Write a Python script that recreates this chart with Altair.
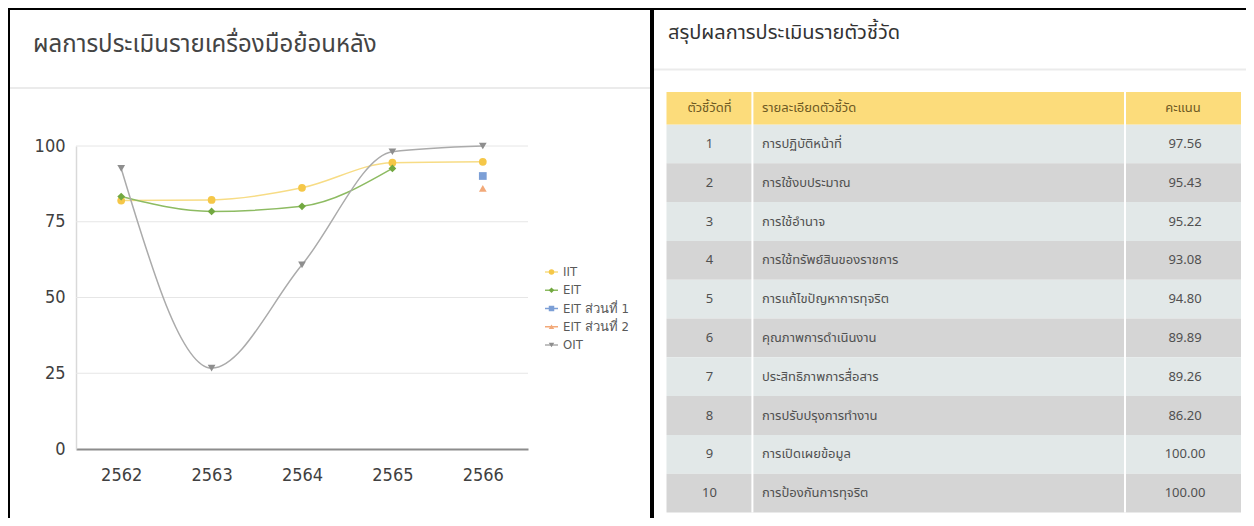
import altair as alt
import pandas as pd

# ---------------- data ----------------
years = ["2562", "2563", "2564", "2565", "2566"]
series_names = ["IIT", "EIT", "EIT ส่วนที่ 1", "EIT ส่วนที่ 2", "OIT"]
iit = [82.0, 82.2, 86.2, 94.5, 94.8]
eit = [83.3, 78.4, 80.1, 92.6, None]
eit1 = [None, None, None, None, 90.1]
eit2 = [None, None, None, None, 86.0]
oit = [92.6, 26.7, 60.8, 98.1, 100.0]
y_ticks = [0, 25, 50, 75, 100]

ind_no = [str(i) for i in range(1, 11)]
ind_desc = [
    "การปฏิบัติหน้าที่",
    "การใช้งบประมาณ",
    "การใช้อำนาจ",
    "การใช้ทรัพย์สินของราชการ",
    "การแก้ไขปัญหาการทุจริต",
    "คุณภาพการดำเนินงาน",
    "ประสิทธิภาพการสื่อสาร",
    "การปรับปรุงการทำงาน",
    "การเปิดเผยข้อมูล",
    "การป้องกันการทุจริต",
]
ind_score = ["97.56", "95.43", "95.22", "93.08", "94.80",
             "89.89", "89.26", "86.20", "100.00", "100.00"]
headers = ["ตัวชี้วัดที่", "รายละเอียดตัวชี้วัด", "คะแนน"]
title_left = "ผลการประเมินรายเครื่องมือย้อนหลัง"
title_right = "สรุปผลการประเมินรายตัวชี้วัด"

# ---------------- styles ----------------
marker_colors = ["#f5c748", "#72a840", "#7c9fd6", "#f2a979", "#8e8e8e"]
line_colors = ["#f7dc85", "#8dbb62", "#7c9fd6", "#f2a979", "#ababab"]
shapes = ["circle", "diamond", "square", "triangle-up", "triangle-down"]
NUM_FONT = "Liberation Sans Narrow, DejaVu Sans Condensed, Liberation Sans, sans-serif"
THAI_FONT = "Noto Sans Thai, Noto Sans, sans-serif"

rows = []
for name, vals in zip(series_names, [iit, eit, eit1, eit2, oit]):
    for yr, v in zip(years, vals):
        if v is not None:
            rows.append({"series": name, "year": yr, "value": v})
df = pd.DataFrame(rows)
grid_df = pd.DataFrame({"value": y_ticks[1:]})
leg_df = pd.DataFrame({"series": series_names})
tbl_df = pd.DataFrame({
    "no": ind_no,
    "desc": ind_desc,
    "score": ind_score,
    "parity": ["odd" if i % 2 == 1 else "even" for i in range(1, 11)],
})
one = pd.DataFrame({"d": [0]})

xscale = alt.Scale(type="point", domain=years, range=[68, 520], padding=0.5)
yscale = alt.Scale(domain=[0, 100], range=[441, 138], nice=False, zero=False)
xaxis = alt.Axis(title=None, orient="bottom", offset=-69, labelAngle=0, ticks=False,
                 tickSize=0, domainColor="#8c8c8c", domainWidth=2, grid=False,
                 labelFont=NUM_FONT, labelFontSize=18, labelColor="#404040",
                 labelPadding=17)
yaxis = alt.Axis(title=None, orient="left", offset=-68, values=y_ticks, ticks=False,
                 tickSize=0, domainColor="#d9d9d9", domainWidth=1.5, grid=False,
                 labelFont=NUM_FONT, labelFontSize=18, labelColor="#404040",
                 labelPadding=11)

grid = alt.Chart(grid_df).mark_rule(color="#e6e6e6", strokeWidth=1).encode(
    x=alt.value(68), x2=alt.value(520),
    y=alt.Y("value:Q", scale=yscale, axis=yaxis),
)
lines = alt.Chart(df).mark_line(interpolate="monotone", strokeWidth=1.5).encode(
    x=alt.X("year:O", scale=xscale, axis=xaxis),
    y=alt.Y("value:Q", scale=yscale, axis=yaxis),
    stroke=alt.Stroke("series:N", scale=alt.Scale(domain=series_names, range=line_colors), legend=None),
    detail="series:N",
)
points = alt.Chart(df).mark_point(filled=True, size=60, opacity=1, strokeWidth=0).encode(
    x=alt.X("year:O", scale=xscale, axis=xaxis),
    y=alt.Y("value:Q", scale=yscale, axis=yaxis),
    fill=alt.Fill("series:N", scale=alt.Scale(domain=series_names, range=marker_colors), legend=None),
    shape=alt.Shape("series:N", scale=alt.Scale(domain=series_names, range=shapes), legend=None),
)
line_core = alt.layer(grid, lines, points)

# custom legend
lscale = alt.Scale(type="point", domain=series_names, range=[264, 337], padding=0)
leg_rule = alt.Chart(leg_df).mark_rule(strokeWidth=1.5).encode(
    x=alt.value(537), x2=alt.value(550),
    y=alt.Y("series:N", scale=lscale, axis=None),
    stroke=alt.Stroke("series:N", scale=alt.Scale(domain=series_names, range=line_colors), legend=None),
)
leg_pt = alt.Chart(leg_df).mark_point(filled=True, size=30, opacity=1, strokeWidth=0).encode(
    x=alt.value(543.5),
    y=alt.Y("series:N", scale=lscale, axis=None),
    fill=alt.Fill("series:N", scale=alt.Scale(domain=series_names, range=marker_colors), legend=None),
    shape=alt.Shape("series:N", scale=alt.Scale(domain=series_names, range=shapes), legend=None),
)
leg_txt = alt.Chart(leg_df).mark_text(align="left", baseline="middle", font=NUM_FONT,
                                      fontSize=13, color="#595959").encode(
    x=alt.value(555),
    y=alt.Y("series:N", scale=lscale, axis=None),
    text="series:N",
)
legend = alt.layer(leg_rule, leg_pt, leg_txt)

# table
tscale = alt.Scale(type="band", domain=ind_no, range=[116.5, 504.5], paddingInner=0, paddingOuter=0)
t_rect = alt.Chart(tbl_df).mark_rect().encode(
    x=alt.value(658.5), x2=alt.value(1233),
    y=alt.Y("no:O", scale=tscale, axis=None),
    fill=alt.Fill("parity:N", scale=alt.Scale(domain=["odd", "even"], range=["#e2e8e8", "#d5d5d5"]), legend=None),
)
t_no = alt.Chart(tbl_df).mark_text(align="center", baseline="middle", font=THAI_FONT,
                                   fontSize=13, color="#505050").encode(
    x=alt.value(701.5), y=alt.Y("no:O", scale=tscale, axis=None), text="no:N")
t_desc = alt.Chart(tbl_df).mark_text(align="left", baseline="middle", font=THAI_FONT,
                                     fontSize=13, color="#505050").encode(
    x=alt.value(754), y=alt.Y("no:O", scale=tscale, axis=None), text="desc:N")
t_score = alt.Chart(tbl_df).mark_text(align="center", baseline="middle", font=THAI_FONT,
                                      fontSize=13, color="#505050").encode(
    x=alt.value(1177), y=alt.Y("no:O", scale=tscale, axis=None), text="score:N")
table = alt.layer(t_rect, t_no, t_desc, t_score)

h_rect = alt.Chart(one).mark_rect(color="#fcdc7b").encode(
    x=alt.value(658.5), x2=alt.value(1233), y=alt.value(84), y2=alt.value(116.5))
HDR = dict(baseline="middle", font=THAI_FONT, fontSize=13, color="#6e5a24")
h1 = alt.Chart(one).mark_text(align="center", text=headers[0], **HDR).encode(
    x=alt.value(701.5), y=alt.value(100))
h2 = alt.Chart(one).mark_text(align="left", text=headers[1], **HDR).encode(
    x=alt.value(754), y=alt.value(100))
h3 = alt.Chart(one).mark_text(align="center", text=headers[2], **HDR).encode(
    x=alt.value(1175), y=alt.value(100))
div1 = alt.Chart(one).mark_rule(color="white", strokeWidth=2).encode(
    x=alt.value(744.4), y=alt.value(84), y2=alt.value(504.5))
div2 = alt.Chart(one).mark_rule(color="white", strokeWidth=2).encode(
    x=alt.value(1117), y=alt.value(84), y2=alt.value(504.5))

# titles & frame
t_left = alt.Chart(one).mark_text(align="left", baseline="middle", font=THAI_FONT,
                                  fontSize=24, color="#444444", text=title_left).encode(
    x=alt.value(25), y=alt.value(37))
t_right = alt.Chart(one).mark_text(align="left", baseline="middle", font=THAI_FONT,
                                   fontSize=20, color="#333333", text=title_right).encode(
    x=alt.value(660), y=alt.value(25))
sep_l = alt.Chart(one).mark_rule(color="#ebebeb", strokeWidth=2).encode(
    x=alt.value(0), x2=alt.value(642), y=alt.value(80))
sep_r = alt.Chart(one).mark_rule(color="#ebebeb", strokeWidth=2).encode(
    x=alt.value(646), x2=alt.value(1238), y=alt.value(61.5))
f_top = alt.Chart(one).mark_rule(color="black", strokeWidth=4).encode(
    x=alt.value(0), x2=alt.value(1238), y=alt.value(0))
f_left = alt.Chart(one).mark_rule(color="black", strokeWidth=4).encode(
    x=alt.value(0), y=alt.value(0), y2=alt.value(510))
f_mid = alt.Chart(one).mark_rule(color="black", strokeWidth=4).encode(
    x=alt.value(644), y=alt.value(0), y2=alt.value(510))

chart = alt.layer(
    sep_l, sep_r, t_left, t_right,
    line_core, legend,
    table, h_rect, h1, h2, h3, div1, div2,
    f_top, f_left, f_mid,
).resolve_scale(
    x="independent", y="independent", fill="independent",
    stroke="independent", shape="independent",
).properties(
    width=1238, height=510, padding=0, autosize=alt.AutoSizeParams(type="none"),
    background="white",
).configure_view(stroke=None)

chart.save("out.html", embed_options={"renderer": "svg", "actions": False})
